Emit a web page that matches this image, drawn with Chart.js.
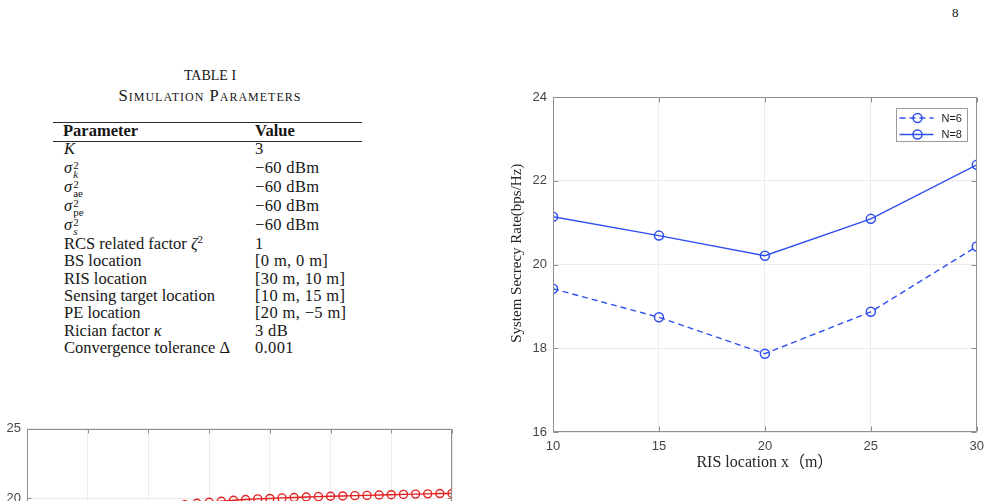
<!DOCTYPE html>
<html>
<head>
<meta charset="utf-8">
<script src="https://cdn.jsdelivr.net/npm/chart.js@4.4.1/dist/chart.umd.min.js"></script>
<style>
html,body{margin:0;padding:0;overflow:hidden;background:#fff;}
body{width:991px;height:501px;position:relative;}
.abs{position:absolute;white-space:nowrap;}
.serif{font-family:'Liberation Serif','Times New Roman',serif;color:#161616;}
.row{font-size:16.5px;line-height:18px;height:18px;}
.val{letter-spacing:0.35px;}
.ss{display:inline-block;vertical-align:-5px;font-size:11px;line-height:9px;margin-left:1px;}
.ss span{display:block;}
.rule{position:absolute;left:53px;width:309px;background:#2a2a2a;}
</style>
</head>
<body>
<div class="abs serif" style="left:952px;top:5px;font-size:13px;">8</div>

<div class="abs serif" style="left:110px;width:200px;top:67px;text-align:center;font-size:14px;line-height:18px;">TABLE I</div>
<div class="abs serif" style="left:40px;width:340px;top:87px;text-align:center;font-size:16.5px;line-height:18px;font-variant:small-caps;letter-spacing:1px;">Simulation Parameters</div>

<div class="rule" style="top:121.5px;height:1.5px;"></div>
<div class="rule" style="top:141px;height:1px;"></div>

<div id="tbl"></div>

<div class="abs" style="left:500px;top:80px;width:491px;height:420px;"><canvas id="c1" width="491" height="420"></canvas></div>
<div class="abs" style="left:0px;top:415px;width:470px;height:420px;"><canvas id="c2" width="470" height="420"></canvas></div>

<script>
// ---- main chart data ----
const risLocation = [10, 15, 20, 25, 30];
const rateN6 = [19.42, 18.74, 17.87, 18.87, 20.43];
const rateN8 = [21.14, 20.69, 20.21, 21.09, 22.38];
const seriesLabels = ['N=6', 'N=8'];
const yTicksMain = [16, 18, 20, 22, 24];

// ---- lower chart data (partially visible) ----
const iterIndex = [1,2,3,4,5,6,7,8,9,10,11,12,13,14,15,16,17,18,19,20,21,22,23,24,25,26,27,28,29,30,31,32,33,34,35];
const iterValues = [14.2,15.9,16.8,17.4,17.9,18.25,18.55,18.8,19.0,19.15,19.3,19.43,19.55,19.65,19.73,19.8,19.87,19.92,19.97,20.0,20.04,20.07,20.1,20.13,20.16,20.18,20.2,20.22,20.25,20.27,20.29,20.31,20.33,20.35,20.36];

// ---- table text ----
const tableRows = [
  ['<i>K</i>', '3', 148.5],
  ['<i>σ</i><span class="ss"><span>2</span><span><i>k</i></span></span>', '−60 dBm', 167.5],
  ['<i>σ</i><span class="ss"><span>2</span><span>ae</span></span>', '−60 dBm', 186.5],
  ['<i>σ</i><span class="ss"><span>2</span><span>pe</span></span>', '−60 dBm', 205.5],
  ['<i>σ</i><span class="ss"><span>2</span><span><i>s</i></span></span>', '−60 dBm', 225],
  ['RCS related factor <i>ζ</i><sup style="font-size:11px;line-height:0">2</sup>', '1', 244],
  ['BS location', '[0 m, 0 m]', 261.3],
  ['RIS location', '[30 m, 10 m]', 278.7],
  ['Sensing target location', '[10 m, 15 m]', 296],
  ['PE location', '[20 m, −5 m]', 313.3],
  ['Rician factor <i>κ</i>', '3 dB', 330.7],
  ['Convergence tolerance Δ', '0.001', 348]
];
let html = '<div class="abs serif row" style="left:63px;top:' + (130.5-9) + 'px;font-weight:bold">Parameter</div>' +
           '<div class="abs serif row" style="left:255px;top:' + (130.5-9) + 'px;font-weight:bold">Value</div>';
tableRows.forEach(r => {
  html += '<div class="abs serif row" style="left:64px;top:' + (r[2]-9) + 'px">' + r[0] + '</div>';
  html += '<div class="abs serif row val" style="left:255px;top:' + (r[2]-9) + 'px">' + r[1] + '</div>';
});
document.getElementById('tbl').innerHTML = html;

// ---- plugins ----
const boxTicks = {
  id: 'boxTicks',
  afterDatasetsDraw(chart, args, opts) {
    const {ctx, chartArea: a, scales} = chart;
    const x = scales.x, y = scales.y, L = opts.len || 4;
    ctx.save();
    ctx.strokeStyle = opts.color || '#8a8a8a';
    ctx.lineWidth = 1;
    ctx.beginPath();
    const l = Math.round(a.left) + 0.5, r = Math.round(a.right) - 0.5;
    const t = Math.round(a.top) + 0.5, b = Math.round(a.bottom) - 0.5;
    ctx.rect(l, t, r - l, b - t);
    x.ticks.forEach(tk => {
      const px = Math.round(x.getPixelForValue(tk.value)) + 0.5;
      ctx.moveTo(px, b); ctx.lineTo(px, b - L);
      ctx.moveTo(px, t); ctx.lineTo(px, t + L);
    });
    y.ticks.forEach(tk => {
      const py = Math.round(y.getPixelForValue(tk.value)) + 0.5;
      ctx.moveTo(l, py); ctx.lineTo(l + L, py);
      ctx.moveTo(r, py); ctx.lineTo(r - L, py);
    });
    ctx.stroke();
    ctx.restore();
  }
};

const boxLegend = {
  id: 'boxLegend',
  afterDraw(chart, args, opts) {
    if (!opts.show) return;
    const {ctx, chartArea: a} = chart;
    const w = 71, h = 33;
    const bx = Math.round(a.right - 81) + 0.5, by = Math.round(a.top + 11) + 0.5;
    ctx.save();
    ctx.fillStyle = '#fff';
    ctx.fillRect(bx, by, w, h);
    ctx.strokeStyle = '#9a9a9a';
    ctx.lineWidth = 1;
    ctx.strokeRect(bx, by, w, h);
    chart.data.datasets.forEach((ds, i) => {
      const cy = by + 9.5 + i * 16.5;
      ctx.strokeStyle = ds.borderColor;
      ctx.lineWidth = ds.borderWidth;
      ctx.setLineDash(ds.borderDash || []);
      ctx.beginPath();
      ctx.moveTo(bx + 3, cy); ctx.lineTo(bx + 37, cy);
      ctx.stroke();
      ctx.setLineDash([]);
      ctx.lineWidth = ds.pointBorderWidth;
      ctx.beginPath();
      ctx.arc(bx + 21, cy, ds.pointRadius, 0, Math.PI * 2);
      ctx.stroke();
      ctx.fillStyle = '#1e1e1e';
      ctx.font = '11px "Liberation Sans", Arial, sans-serif';
      ctx.textBaseline = 'middle';
      ctx.textAlign = 'left';
      ctx.fillText(ds.label, bx + 45, cy + 0.5);
    });
    ctx.restore();
  }
};

const blue = '#2f4ff0';
const tickFont = {family: '"Liberation Sans", Arial, sans-serif', size: 13};
const tickColor = '#454545';
const gridColor = '#ececec';

new Chart(document.getElementById('c1'), {
  type: 'line',
  data: {
    datasets: [
      {
        label: seriesLabels[0],
        data: risLocation.map((v, i) => ({x: v, y: rateN6[i]})),
        borderColor: blue, borderWidth: 1.4, borderDash: [6, 4],
        pointRadius: 4.5, pointBorderWidth: 1.5, pointBorderColor: blue,
        pointBackgroundColor: 'rgba(0,0,0,0)', tension: 0
      },
      {
        label: seriesLabels[1],
        data: risLocation.map((v, i) => ({x: v, y: rateN8[i]})),
        borderColor: blue, borderWidth: 1.4,
        pointRadius: 4.5, pointBorderWidth: 1.5, pointBorderColor: blue,
        pointBackgroundColor: 'rgba(0,0,0,0)', tension: 0
      }
    ]
  },
  options: {
    responsive: false, animation: false, events: [],
    layout: {padding: {left: 0, right: 14, top: 17, bottom: 0}},
    plugins: {legend: {display: false}, tooltip: {enabled: false},
      boxTicks: {color: '#8f8f8f', len: 5}, boxLegend: {show: true}},
    scales: {
      x: {
        type: 'linear', min: risLocation[0], max: risLocation[risLocation.length - 1],
        afterBuildTicks: s => { s.ticks = risLocation.map(v => ({value: v})); },
        afterFit: s => { s.height = 68; },
        grid: {color: gridColor, drawTicks: false}, border: {display: false},
        ticks: {font: tickFont, color: tickColor, padding: 7, maxRotation: 0},
        title: {display: true, text: 'RIS location x（m）', color: '#262626',
          font: {family: '"Liberation Serif","Times New Roman","Noto Sans CJK SC",serif', size: 16},
          padding: {top: 0, bottom: 28}}
      },
      y: {
        min: yTicksMain[0], max: yTicksMain[yTicksMain.length - 1],
        afterBuildTicks: s => { s.ticks = yTicksMain.map(v => ({value: v})); },
        afterFit: s => { s.width = 53; },
        grid: {color: gridColor, drawTicks: false}, border: {display: false},
        ticks: {font: tickFont, color: tickColor, padding: 6},
        title: {display: true, text: '      System Secrecy Rate(bps/Hz)', color: '#262626',
          font: {family: '"Liberation Serif","Times New Roman",serif', size: 15},
          padding: {top: 8, bottom: 0}}
      }
    }
  },
  plugins: [boxTicks, boxLegend]
});

const red = '#e42222';
const yTicksLow = [0, 5, 10, 15, 20, 25];
const xTicksLow = [0, 5, 10, 15, 20, 25, 30, 35];
new Chart(document.getElementById('c2'), {
  type: 'line',
  data: {
    datasets: [{
      label: 'convergence',
      data: iterIndex.map((v, i) => ({x: v, y: iterValues[i]})),
      borderColor: red, borderWidth: 1.4,
      pointRadius: 4, pointBorderWidth: 1.4, pointBorderColor: red,
      pointBackgroundColor: 'rgba(0,0,0,0)', tension: 0
    }]
  },
  options: {
    responsive: false, animation: false, events: [],
    layout: {padding: {left: 0, right: 18, top: 12, bottom: 0}},
    plugins: {legend: {display: false}, tooltip: {enabled: false},
      boxTicks: {color: '#8f8f8f', len: 4}, boxLegend: {show: false}},
    scales: {
      x: {
        type: 'linear', min: 0, max: 35,
        afterBuildTicks: s => { s.ticks = xTicksLow.map(v => ({value: v})); },
        afterFit: s => { s.height = 58; },
        grid: {color: gridColor, drawTicks: false}, border: {display: false},
        ticks: {font: tickFont, color: tickColor, padding: 7, maxRotation: 0}
      },
      y: {
        min: 0, max: 25,
        afterBuildTicks: s => { s.ticks = yTicksLow.map(v => ({value: v})); },
        afterFit: s => { s.width = 27; },
        grid: {color: gridColor, drawTicks: false}, border: {display: false},
        ticks: {font: tickFont, color: tickColor, padding: 6}
      }
    }
  },
  plugins: [boxTicks]
});
</script>
</body>
</html>
